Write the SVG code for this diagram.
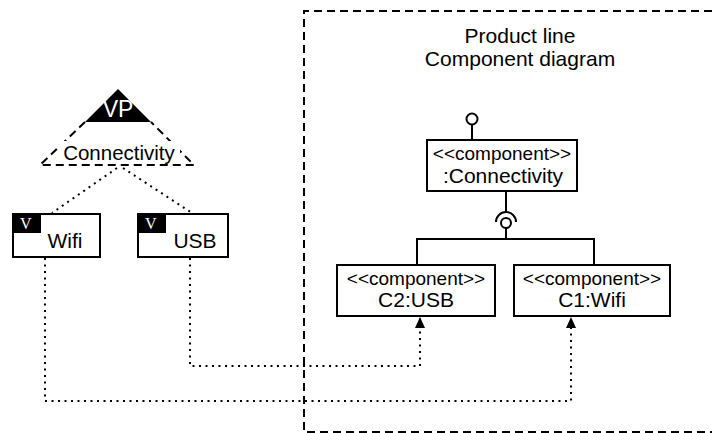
<svg xmlns="http://www.w3.org/2000/svg" width="712" height="433" viewBox="0 0 712 433">
<style>
text{font-family:"Liberation Sans",Arial,sans-serif;fill:#000}
.box{fill:#fff;stroke:#000;stroke-width:2}
.line{fill:none;stroke:#000;stroke-width:2}
.dot{fill:none;stroke:#000;stroke-width:2;stroke-dasharray:2,4.5}
.dash{fill:none;stroke:#000;stroke-width:2;stroke-dasharray:8,5}
.st{font-size:19px;text-anchor:middle}
.nm{font-size:21px;text-anchor:middle}
.vtag{font-family:"Liberation Serif","Times New Roman",serif;font-size:16px;fill:#fff}
</style>
<defs>
<marker id="arr" markerUnits="userSpaceOnUse" markerWidth="11" markerHeight="11" viewBox="0 0 11 11" refX="11" refY="5.5" orient="auto">
<path d="M0,0.5 L11,5.5 L0,10.5 z" fill="#000"/>
</marker>
</defs>
<g id="frame">
<path class="dash" d="M712,11 H304 V432 H712"/>
<text x="520" y="43" style="font-size:21px;text-anchor:middle">Product line</text>
<text x="520" y="66" style="font-size:21px;text-anchor:middle">Component diagram</text>
</g>
<g id="vp">
<path d="M118,89 L85,122 L151,122 Z" fill="#000"/>
<path class="dash" d="M85,122 L40,165 H194 L151,122"/>
<text x="118" y="117" style="font-size:23px;text-anchor:middle;fill:#fff">VP</text>
<rect x="58" y="141" width="122" height="21" fill="#fff"/>
<text x="119" y="160" style="font-size:20.5px;text-anchor:middle">Connectivity</text>
</g>
<g id="wifi">
<rect class="box" x="13" y="214" width="87" height="43"/>
<rect x="13" y="214" width="28" height="19" fill="#000"/>
<text class="vtag" x="20" y="229">V</text>
<text x="65" y="248" style="font-size:21px;text-anchor:middle">Wifi</text>
</g>
<g id="usb">
<rect class="box" x="138" y="214" width="90" height="43"/>
<rect x="138" y="214" width="28" height="19" fill="#000"/>
<text class="vtag" x="145" y="229">V</text>
<text x="195" y="248" style="font-size:21px;text-anchor:middle">USB</text>
</g>
<g id="connectivity">
<rect class="box" x="427" y="140" width="150" height="51"/>
<text class="st" x="502" y="160">&lt;&lt;component&gt;&gt;</text>
<text class="nm" x="503" y="183">:Connectivity</text>
</g>
<g id="c2usb">
<rect class="box" x="337" y="265" width="158" height="51"/>
<text class="st" x="416" y="285">&lt;&lt;component&gt;&gt;</text>
<text class="nm" x="416" y="307">C2:USB</text>
</g>
<g id="c1wifi">
<rect class="box" x="514" y="265" width="156" height="51"/>
<text class="st" x="592" y="285">&lt;&lt;component&gt;&gt;</text>
<text class="nm" x="592" y="307">C1:Wifi</text>
</g>
<g id="connectors">
<path class="line" d="M472,140 V125"/>
<circle cx="472" cy="119" r="5.5" fill="#fff" stroke="#000" stroke-width="2"/>
<path class="line" d="M506,191 V212"/>
<path class="line" d="M496,222 A10,10 0 0 1 516,222"/>
<circle cx="506" cy="223" r="5" fill="#fff" stroke="#000" stroke-width="2"/>
<path class="line" d="M506,228 V239"/>
<path class="line" d="M417,265 V239 H594 V265"/>
<path class="dot" d="M117,168 L52,213"/>
<path class="dot" d="M123,168 L192,213"/>
<path class="dot" d="M45,258 V401 H571 V317" marker-end="url(#arr)"/>
<path class="dot" d="M190,258 V366 H420 V317" marker-end="url(#arr)"/>
</g>
</svg>
